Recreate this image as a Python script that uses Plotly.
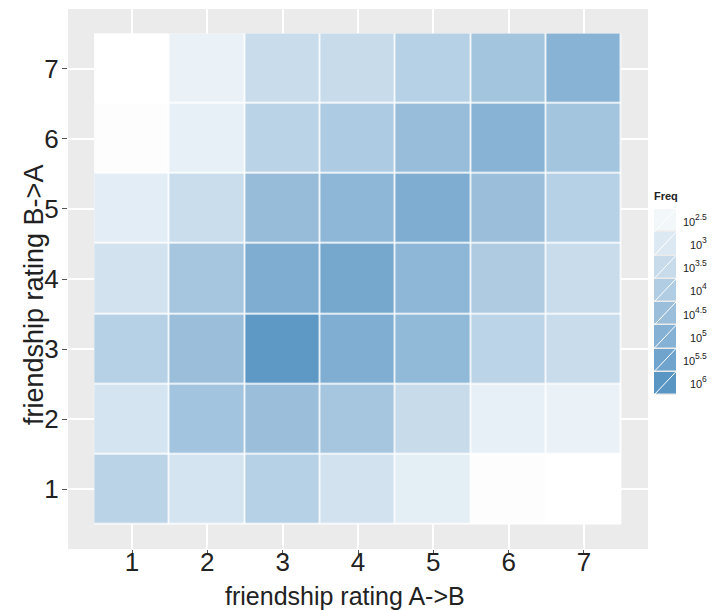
import numpy as np
import plotly.graph_objects as go

# Ratings on both axes
ratings = [1, 2, 3, 4, 5, 6, 7]

# Pair counts: one row per "B->A" rating (1..7), one column per "A->B" rating (1..7)
freq_rows = [
    [6170, 1550, 7590, 1740, 660, 180, 160],            # B->A = 1
    [1550, 20900, 31600, 17800, 3090, 540, 480],        # B->A = 2
    [7590, 31600, 812800, 131800, 53700, 5900, 2950],   # B->A = 3
    [1740, 17800, 141300, 229100, 63100, 11750, 2950],  # B->A = 4
    [690, 2750, 41700, 63100, 147900, 31600, 7590],     # B->A = 5
    [180, 560, 6170, 12300, 39800, 87100, 20000],       # B->A = 6
    [160, 480, 2950, 3090, 7590, 20000, 87100],         # B->A = 7
]

# Legend breaks (log10 of Freq) and their exponent labels
legend_levels = [2.5, 3.0, 3.5, 4.0, 4.5, 5.0, 5.5, 6.0]
legend_exponents = ["2.5", "3", "3.5", "4", "4.5", "5", "5.5", "6"]

ZMIN, ZMAX = 2.2, 6.0
blues = [[0.0, "#FFFFFF"], [1.0, "#5A96C4"]]
FONT = "Liberation Sans, Arial, sans-serif"
TXT = "#222222"

log_freq = np.log10(np.array(freq_rows, dtype=float))

W, H = 717, 610
ML, MR, MT, MB = 68, 0, 9, 61
pw = W - ML - MR
ph = H - MT - MB

def px_x(p):
    return (p - ML) / pw

def px_y(p):
    return 1 - (p - MT) / ph

def text_width(s, size):
    # approximate Arial advance widths
    widths = {".": 0.278}
    return sum(widths.get(c, 0.556) for c in s) * size

fig = go.Figure()

# white underlay so tile borders read as white lines
fig.add_trace(go.Heatmap(
    x=ratings, y=ratings, z=np.zeros_like(log_freq),
    colorscale=[[0, "white"], [1, "white"]], showscale=False, hoverinfo="skip",
))
# the tiles themselves
fig.add_trace(go.Heatmap(
    x=ratings, y=ratings, z=log_freq,
    zmin=ZMIN, zmax=ZMAX, colorscale=blues, showscale=False,
    xgap=1.6, ygap=1.6,
    customdata=np.array(freq_rows),
    hovertemplate="A->B %{x}<br>B->A %{y}<br>Freq %{customdata}<extra></extra>",
))

# legend keys drawn as a one-column heatmap
LEG_TOP, LEG_BOT = 209, 395
key_h = (LEG_BOT - LEG_TOP) / len(legend_levels)
key_idx = list(range(len(legend_levels)))
fig.add_trace(go.Heatmap(
    x=[0], y=key_idx, z=[[v] for v in legend_levels],
    zmin=ZMIN, zmax=ZMAX, colorscale=blues, showscale=False,
    ygap=1.5, xaxis="x2", yaxis="y2", hoverinfo="skip",
))
# diagonal glyph inside each key
dx, dy = [], []
for i in key_idx:
    dx += [-0.5, 0.5, None]
    dy += [i + 0.5, i - 0.5, None]
fig.add_trace(go.Scatter(
    x=dx, y=dy, mode="lines", line=dict(color="white", width=1),
    xaxis="x2", yaxis="y2", hoverinfo="skip", showlegend=False,
))

# legend labels: "10" with a raised exponent, right-aligned
LAB_RIGHT = 709
BASE_SIZE, EXP_SIZE = 11, 8.5
for i, ex in zip(key_idx, legend_exponents):
    yc = LEG_TOP + (i + 0.5) * key_h
    ew = text_width(ex, EXP_SIZE)
    fig.add_annotation(
        x=px_x(LAB_RIGHT), y=px_y(yc - 4), xref="paper", yref="paper",
        text=ex, showarrow=False, xanchor="right", yanchor="middle",
        font=dict(family=FONT, size=EXP_SIZE, color=TXT),
    )
    fig.add_annotation(
        x=px_x(LAB_RIGHT - ew), y=px_y(yc + 1), xref="paper", yref="paper",
        text="10", showarrow=False, xanchor="right", yanchor="middle",
        font=dict(family=FONT, size=BASE_SIZE, color=TXT),
    )
fig.add_annotation(
    x=px_x(652), y=px_y(196), xref="paper", yref="paper", text="<b>Freq</b>",
    showarrow=False, xanchor="left", yanchor="middle",
    font=dict(family=FONT, size=11, color=TXT),
)

# axis titles
fig.add_annotation(
    x=px_x(345), y=px_y(580), xref="paper", yref="paper",
    text="friendship rating A->B", showarrow=False, xanchor="center", yanchor="top",
    font=dict(family=FONT, size=25, color=TXT),
)
fig.add_annotation(
    x=px_x(34), y=px_y(295), xref="paper", yref="paper",
    text="friendship rating B->A", showarrow=False, textangle=-90,
    xanchor="center", yanchor="middle",
    font=dict(family=FONT, size=27, color=TXT),
)

axis_common = dict(
    range=[0.15, 7.85], tickvals=ratings, ticktext=[str(r) for r in ratings],
    showgrid=True, gridcolor="white", gridwidth=1.6, zeroline=False, showline=False,
    ticks="outside", ticklen=5, tickcolor="#555555", tickwidth=1,
    tickfont=dict(family=FONT, size=26, color=TXT),
)

fig.update_layout(
    width=W, height=H,
    margin=dict(l=ML, r=MR, t=MT, b=MB),
    paper_bgcolor="white", plot_bgcolor="#EBEBEB",
    xaxis=dict(domain=[0, px_x(648)], ticklabelstandoff=-15, **axis_common),
    yaxis=dict(domain=[0, 1], ticklabelstandoff=-2, **axis_common),
    xaxis2=dict(domain=[px_x(654), px_x(676)], range=[-0.5, 0.5], anchor="y2",
                visible=False, showgrid=False, zeroline=False),
    yaxis2=dict(domain=[px_y(LEG_BOT), px_y(LEG_TOP)], range=[7.5, -0.5], anchor="x2",
                visible=False, showgrid=False, zeroline=False),
    showlegend=False,
)

fig.write_html("out.html")
